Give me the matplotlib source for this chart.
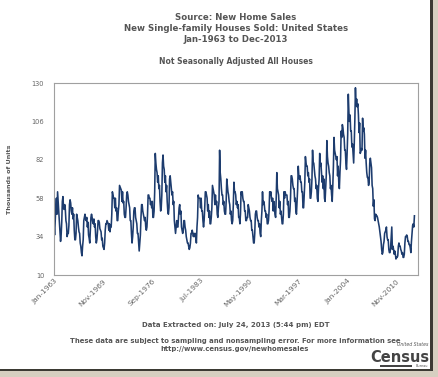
import matplotlib
matplotlib.use('Agg')
import matplotlib.pyplot as plt
from matplotlib.patches import Rectangle
import numpy as np

# monthly new single-family houses sold, not seasonally adjusted (thousands)
sales_1960s = [42, 35, 44, 52, 58, 48, 62, 56, 49, 44, 39, 31,
               35, 43, 56, 59, 52, 51, 54, 51, 44, 42, 34, 36,
               36, 41, 54, 57, 55, 50, 48, 52, 45, 48, 38, 32,
               32, 36, 48, 46, 44, 40, 37, 36, 30, 28, 24, 22,
               28, 32, 44, 46, 48, 45, 44, 46, 40, 43, 35, 33,
               30, 38, 46, 48, 46, 43, 42, 45, 40, 42, 34, 30,
               32, 37, 44, 44, 43, 39, 38, 37, 32, 33, 28, 27]
sales_1970s = [26, 30, 38, 42, 42, 44, 43, 42, 38, 42, 37, 41,
               40, 48, 62, 60, 58, 58, 52, 58, 50, 52, 44, 44,
               50, 54, 66, 65, 64, 63, 56, 62, 55, 56, 48, 46,
               46, 52, 60, 62, 60, 56, 54, 52, 44, 44, 36, 30,
               34, 40, 50, 52, 52, 46, 44, 42, 36, 36, 30, 25,
               30, 35, 46, 54, 54, 50, 48, 46, 44, 46, 40, 38,
               40, 48, 60, 60, 58, 58, 54, 56, 52, 56, 46, 46,
               50, 62, 86, 80, 76, 74, 68, 72, 64, 66, 56, 50,
               52, 60, 80, 85, 78, 76, 68, 72, 62, 66, 56, 50,
               48, 52, 70, 72, 68, 64, 60, 62, 54, 56, 44, 40]
sales_1980s = [36, 40, 44, 40, 40, 46, 52, 54, 48, 50, 40, 38,
               36, 38, 44, 44, 40, 38, 34, 32, 30, 30, 28, 26,
               27, 30, 36, 36, 38, 36, 34, 36, 34, 36, 34, 30,
               40, 46, 60, 58, 58, 58, 52, 58, 50, 50, 44, 40,
               44, 52, 62, 62, 60, 58, 50, 54, 46, 50, 42, 42,
               46, 52, 66, 64, 62, 60, 54, 60, 54, 56, 48, 46,
               52, 56, 88, 74, 70, 64, 60, 60, 54, 56, 50, 48,
               48, 56, 70, 66, 62, 60, 56, 54, 48, 50, 44, 42,
               44, 54, 68, 62, 62, 60, 54, 56, 52, 54, 46, 46,
               42, 48, 62, 60, 62, 58, 56, 56, 50, 50, 44, 44]
sales_1990s = [46, 46, 54, 52, 50, 46, 44, 44, 38, 38, 34, 30,
               30, 36, 48, 50, 50, 46, 44, 44, 40, 42, 36, 34,
               44, 50, 62, 54, 56, 54, 50, 50, 46, 48, 42, 42,
               44, 50, 62, 60, 62, 58, 56, 58, 50, 56, 52, 48,
               46, 58, 74, 64, 62, 60, 52, 56, 48, 50, 46, 42,
               42, 48, 62, 58, 62, 60, 60, 60, 54, 56, 46, 46,
               50, 58, 72, 72, 70, 66, 64, 64, 56, 58, 50, 48,
               56, 64, 78, 72, 70, 72, 68, 68, 62, 62, 52, 52,
               60, 68, 84, 80, 78, 78, 72, 74, 68, 70, 58, 58,
               62, 70, 88, 80, 80, 76, 72, 70, 64, 66, 58, 56]
sales_2000s = [64, 70, 86, 78, 80, 74, 68, 72, 64, 70, 58, 56,
               64, 72, 94, 84, 80, 78, 74, 72, 64, 66, 60, 56,
               66, 78, 96, 88, 86, 84, 82, 84, 72, 78, 68, 64,
               74, 82, 100, 96, 104, 102, 98, 96, 88, 88, 80, 76,
               86, 98, 123, 112, 106, 110, 100, 100, 90, 92, 86, 80,
               92, 107, 127, 116, 120, 115, 117, 110, 99, 105, 86, 87,
               89, 88, 108, 100, 102, 98, 83, 88, 80, 74, 71, 71,
               66, 68, 80, 83, 80, 77, 66, 64, 53, 57, 45, 44,
               48, 47, 47, 46, 44, 42, 40, 37, 34, 31, 26, 23,
               24, 29, 31, 36, 37, 38, 40, 34, 32, 32, 26, 24]
sales_2010s = [24, 27, 34, 40, 26, 28, 26, 23, 25, 23, 20, 21,
               21, 22, 28, 30, 28, 28, 26, 25, 23, 24, 21, 21,
               23, 30, 34, 34, 35, 34, 31, 31, 29, 29, 27, 24,
               31, 36, 41, 42, 40, 47]

tick_labels = ['Jan-1963', 'Nov-1969', 'Sep-1976', 'Jul-1983',
               'May-1990', 'Mar-1997', 'Jan-2004', 'Nov-2010']
y_ticks = [10, 34, 58, 82, 106, 130]
months_total = 612  # Jan-1963 .. Dec-2013

sales = sales_1960s + sales_1970s + sales_1980s + sales_1990s + sales_2000s + sales_2010s
x = np.arange(len(sales))

W, H = 439, 377
fig = plt.figure(figsize=(W / 100, H / 100), dpi=100)
fig.patch.set_facecolor('white')

def fx(px):
    return px / W

def fy(py):
    return 1 - py / H

# screenshot frame / drop shadow
fig.patches.append(Rectangle((fx(433), 0), fx(6), 1, transform=fig.transFigure,
                             facecolor='#d6cfc0', edgecolor='none', zorder=0))
fig.patches.append(Rectangle((0, 0), 1, fy(371), transform=fig.transFigure,
                             facecolor='#d6cfc0', edgecolor='none', zorder=0))
fig.patches.append(Rectangle((fx(430), fy(371)), fx(3), 1 - fy(371), transform=fig.transFigure,
                             facecolor='#3b3a33', edgecolor='none', zorder=1))
fig.patches.append(Rectangle((0, fy(371)), fx(433), fy(368.5) - fy(371), transform=fig.transFigure,
                             facecolor='#3b3a33', edgecolor='none', zorder=1))

ax = fig.add_axes([fx(54), fy(275), fx(418) - fx(54), fy(83) - fy(275)])
ax.plot(x, sales, color='#1d3c6e', linewidth=1.15)
ax.set_xlim(0, months_total - 1)
ax.set_ylim(10, 130)
ax.set_yticks(y_ticks)
ax.set_yticklabels([str(v) for v in y_ticks], fontsize=4.8, color='#666666')
ax.set_xticks([82 * i for i in range(len(tick_labels))])
ax.set_xticklabels(tick_labels, fontsize=5.3, color='#666666', rotation=45,
                   ha='right', va='top', rotation_mode='anchor')
ax.tick_params(axis='y', length=0, pad=7)
ax.tick_params(axis='x', length=0, pad=2)
for s in ax.spines.values():
    s.set_color('#a0a0a0')
    s.set_linewidth(0.8)
ax.set_ylabel('Thousands of Units', fontsize=4.6, color='#555555', fontweight='bold', labelpad=14)

tc = '#555555'
cx = fx(236)
fig.text(cx, fy(17), 'Source: New Home Sales', ha='center', va='center',
         fontsize=6.2, fontweight='bold', color=tc)
fig.text(cx, fy(28.5), 'New Single-family Houses Sold: United States', ha='center', va='center',
         fontsize=6.2, fontweight='bold', color=tc)
fig.text(cx, fy(40), 'Jan-1963 to Dec-2013', ha='center', va='center',
         fontsize=6.2, fontweight='bold', color=tc)
fig.text(cx, fy(62), 'Not Seasonally Adjusted All Houses', ha='center', va='center',
         fontsize=5.5, fontweight='bold', color=tc)
fig.text(cx, fy(325), 'Data Extracted on: July 24, 2013 (5:44 pm) EDT', ha='center', va='center',
         fontsize=5.0, fontweight='bold', color=tc)
fig.text(fx(235), fy(341), 'These data are subject to sampling and nonsampling error. For more information see',
         ha='center', va='center', fontsize=4.95, fontweight='bold', color=tc)
fig.text(fx(235), fy(349.5), 'http://www.census.gov/newhomesales', ha='center', va='center',
         fontsize=4.95, fontweight='bold', color=tc)

# Census logo
fig.text(fx(428), fy(345), 'United States', ha='right', va='center',
         fontsize=3.3, style='italic', color='#555555')
fig.text(fx(429), fy(357.5), 'Census', ha='right', va='center',
         fontsize=10.5, fontweight='bold', color='#444444', family='Liberation Sans Narrow')
fig.patches.append(Rectangle((fx(380), fy(366.5)), fx(32), fy(365) - fy(366.5),
                             transform=fig.transFigure, facecolor='#444444', edgecolor='none'))
fig.text(fx(428), fy(366), 'Bureau', ha='right', va='center',
         fontsize=2.5, color='#555555')

fig.savefig('out.png', dpi=100)
